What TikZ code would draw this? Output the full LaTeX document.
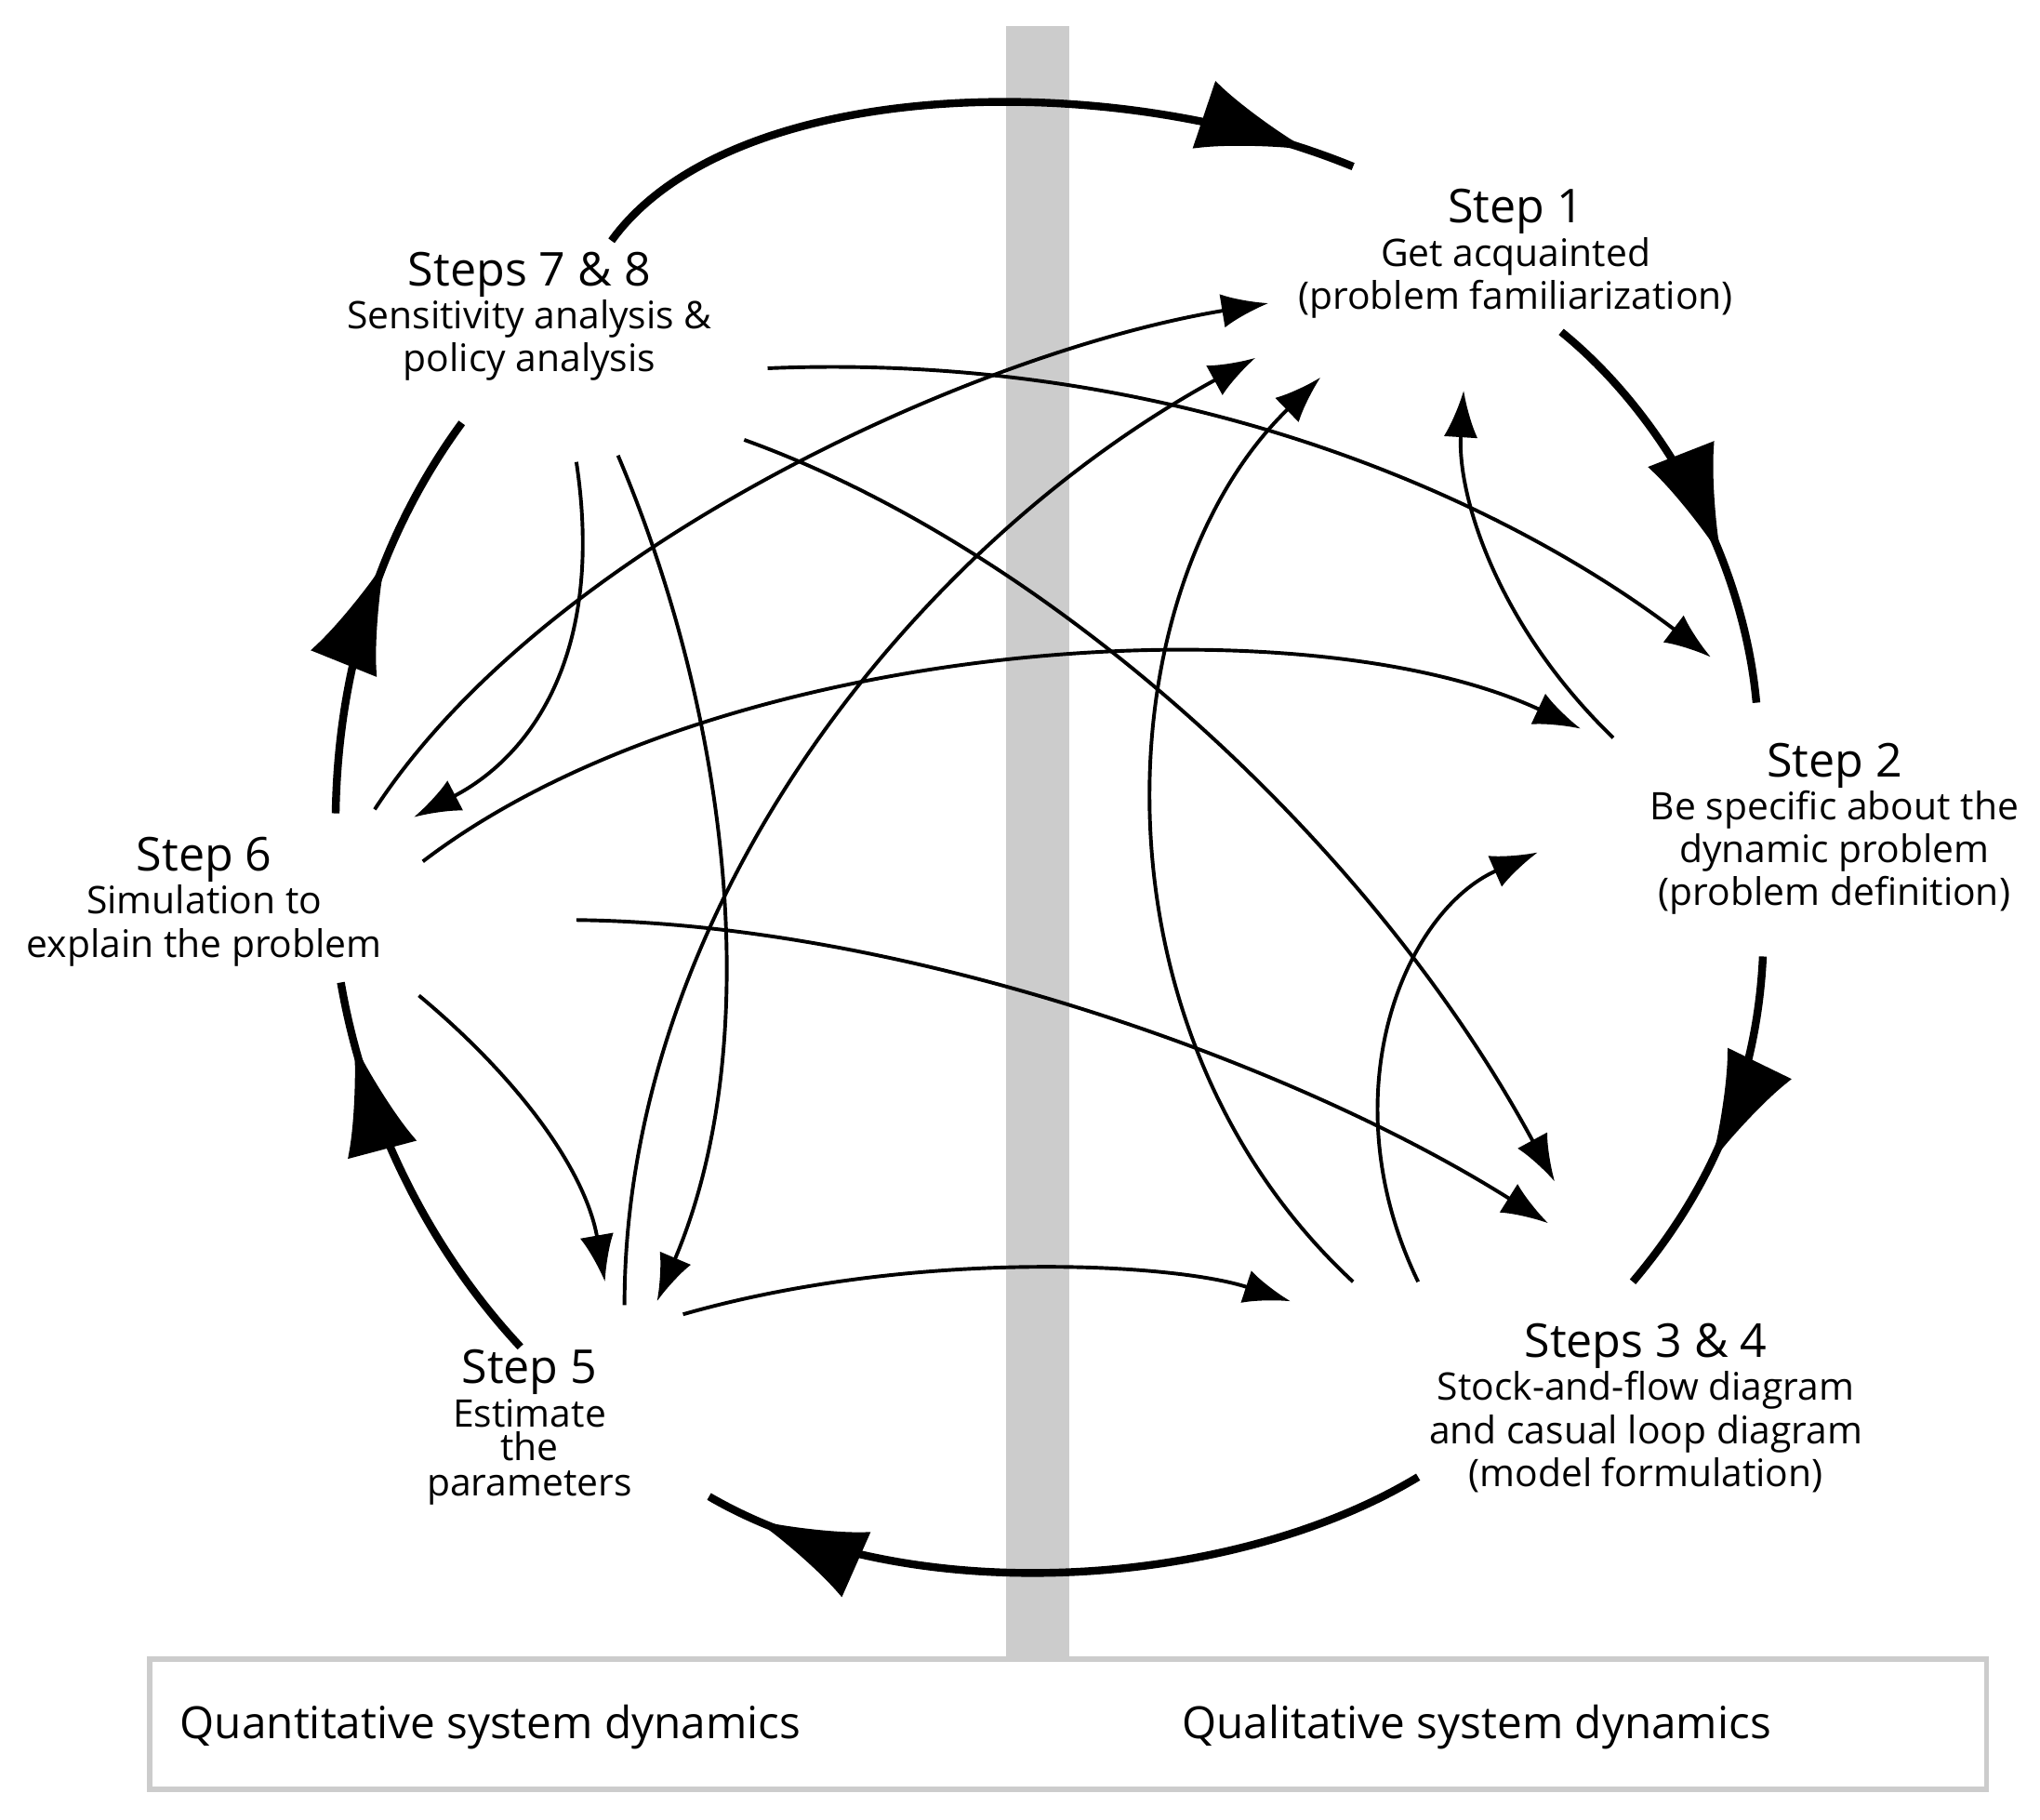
\documentclass[tikz,border=0pt]{standalone}
\usepackage{fontspec}
\setmainfont{Open Sans}
\usetikzlibrary{arrows.meta,decorations.markings}
\tikzset{
    thin arrow/.style = {line width = 0.28mm, -{Latex[length = 3.6mm, width = 2.6mm]}},
    big arrow/.style  = {line width = 0.6mm, postaction = {decorate},
        decoration = {markings, mark = at position #1 with
            {\arrow{Latex[length = 8.5mm, width = 5.5mm]}}}},
    stepbox/.style    = {align = center, font = \fontsize{8.3}{9.4}\selectfont},
}
\newcommand{\steptitle}[1]{{\fontsize{10.2}{12}\selectfont #1}}
\begin{document}
\begin{tikzpicture}[x = 0.1mm, y = -0.1mm]
    \useasboundingbox (0, 0) rectangle (1568, 1398);

    % divider and legend
    \fill [gray!40] (773, 20) rectangle (822, 1275);
    \draw [gray!40, line width = 0.4mm] (115, 1275) rectangle (1527, 1375);
    \node [stepbox, font = \fontsize{9.7}{11}\selectfont] (quant) at (377, 1327) {Quantitative system dynamics};
    \node [stepbox, font = \fontsize{9.7}{11}\selectfont] (qual)  at (1135, 1327) {Qualitative system dynamics};

    % steps
    \node [stepbox] (s1)  at (1165, 195)  {\steptitle{Step 1}\\Get acquainted\\(problem familiarization)};
    \node [stepbox] (s2)  at (1410, 637)  {\steptitle{Step 2}\\Be specific about the\\dynamic problem\\(problem definition)};
    \node [stepbox] (s34) at (1265, 1082) {\steptitle{Steps 3 \& 4}\\Stock-and-flow diagram\\and casual loop diagram\\(model formulation)};
    \node [stepbox, inner sep = 0] (s5) at (407, 1097) {\steptitle{Step 5}\\Estimate\\[-0.7mm]the\\[-0.6mm]parameters};
    \node [stepbox] (s6)  at (157, 693)   {\steptitle{Step 6}\\Simulation to\\explain the problem};
    \node [stepbox] (s78) at (407, 243)   {\steptitle{Steps 7 \& 8}\\Sensitivity analysis \&\\policy analysis};

    % outer cycle
    \coordinate (o1a) at (470, 185);   \coordinate (o1b) at (1040, 128);
    \coordinate (o2a) at (1200, 255);  \coordinate (o2b) at (1350, 540);
    \coordinate (o3a) at (1355, 735);  \coordinate (o3b) at (1255, 985);
    \coordinate (o4a) at (1090, 1135); \coordinate (o4b) at (545, 1150);
    \coordinate (o5a) at (400, 1035);  \coordinate (o5b) at (262, 755);
    \coordinate (o6a) at (258, 625);   \coordinate (o6b) at (355, 325);

    \draw [big arrow = 0.94] (o1a) .. controls (560, 60) and (850, 50) .. (o1b);
    \draw [big arrow = 0.65] (o2a) .. controls (1280, 320) and (1340, 430) .. (o2b);
    \draw [big arrow = 0.6]  (o3a) .. controls (1350, 840) and (1310, 920) .. (o3b);
    \draw [big arrow = 0.93] (o4a) .. controls (950, 1220) and (700, 1240) .. (o4b);
    \draw [big arrow = 0.85] (o5a) .. controls (330, 960) and (280, 860) .. (o5b);
    \draw [big arrow = 0.62] (o6a) .. controls (260, 500) and (300, 400) .. (o6b);

    % cross links
    \coordinate (a1) at (590, 283);   \coordinate (b1) at (1315, 505);
    \coordinate (a2) at (572, 338);   \coordinate (b2) at (1195, 908);
    \coordinate (a3) at (475, 350);   \coordinate (b3) at (505, 1000);
    \coordinate (a4) at (443, 355);   \coordinate (b4) at (318, 628);
    \coordinate (a5) at (288, 622);   \coordinate (b5) at (975, 233);
    \coordinate (a6) at (480, 1003);  \coordinate (b6) at (965, 275);
    \coordinate (a7) at (325, 662);   \coordinate (b7) at (1215, 560);
    \coordinate (a8) at (443, 707);   \coordinate (b8) at (1190, 940);
    \coordinate (a9) at (322, 765);   \coordinate (b9) at (465, 985);
    \coordinate (a10) at (525, 1010); \coordinate (b10) at (992, 1000);
    \coordinate (a11) at (1040, 985); \coordinate (b11) at (1015, 290);
    \coordinate (a12) at (1090, 985); \coordinate (b12) at (1182, 655);
    \coordinate (a13) at (1240, 567); \coordinate (b13) at (1125, 300);

    \draw [thin arrow] (a1) .. controls (900, 270) and (1150, 380) .. (b1);
    \draw [thin arrow] (a2) .. controls (800, 420) and (1050, 640) .. (b2);
    \draw [thin arrow] (a3) .. controls (560, 550) and (590, 800) .. (b3);
    \draw [thin arrow] (a4) .. controls (465, 500) and (410, 580) .. (b4);
    \draw [thin arrow] (a5) .. controls (420, 420) and (750, 270) .. (b5);
    \draw [thin arrow] (a6) .. controls (480, 700) and (700, 420) .. (b6);
    \draw [thin arrow] (a7) .. controls (550, 490) and (1000, 460) .. (b7);
    \draw [thin arrow] (a8) .. controls (700, 710) and (1000, 820) .. (b8);
    \draw [thin arrow] (a9) .. controls (400, 830) and (450, 900) .. (b9);
    \draw [thin arrow] (a10) .. controls (700, 960) and (900, 970) .. (b10);
    \draw [thin arrow] (a11) .. controls (830, 790) and (850, 450) .. (b11);
    \draw [thin arrow] (a12) .. controls (1020, 840) and (1080, 700) .. (b12);
    \draw [thin arrow] (a13) .. controls (1150, 480) and (1120, 380) .. (b13);
\end{tikzpicture}
\end{document}
